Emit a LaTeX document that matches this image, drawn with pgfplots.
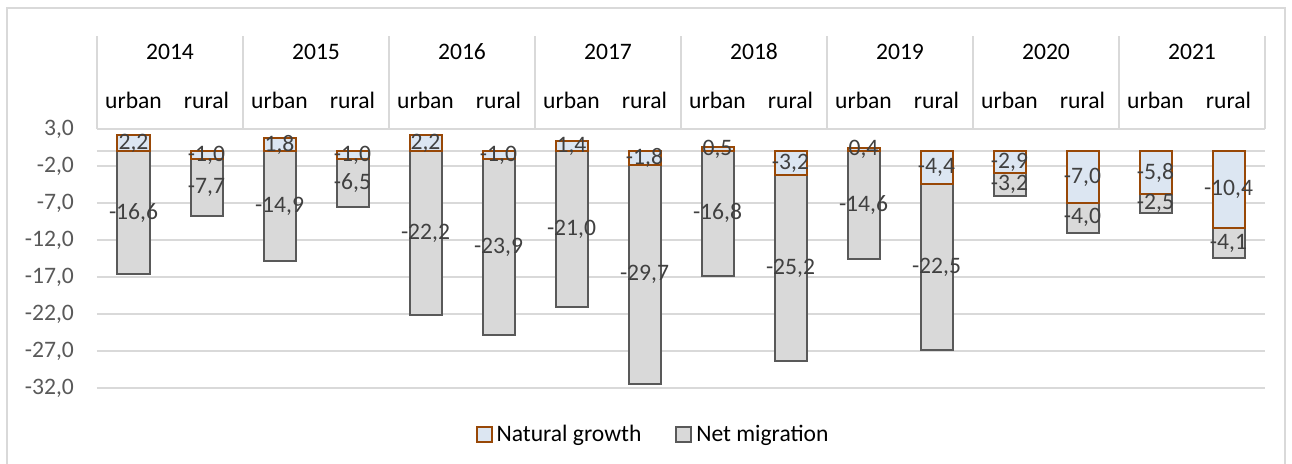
\documentclass[border=0pt]{standalone}
\usepackage{fontspec}
\setmainfont{Carlito}
\usepackage{pgfplots}
\pgfplotsset{compat=1.18}
\usepackage{pgfplotstable}
\definecolor{gridc}{HTML}{D9D9D9}
\definecolor{tickc}{HTML}{595959}
\definecolor{labc}{HTML}{404040}
\definecolor{ngfill}{HTML}{DCE6F2}
\definecolor{ngdraw}{HTML}{984807}
\definecolor{nmfill}{HTML}{D9D9D9}
\definecolor{nmdraw}{HTML}{595959}
\newcommand\cf{\fontsize{11.8pt}{14pt}\selectfont}

\pgfplotstableread{
x ng net
0 2.2 -16.6
1 -1.0 -7.7
2 1.8 -14.9
3 -1.0 -6.5
4 2.2 -22.2
5 -1.0 -23.9
6 1.4 -21.0
7 -1.8 -29.7
8 0.5 -16.8
9 -3.2 -25.2
10 0.4 -14.6
11 -4.4 -22.5
12 -2.9 -3.2
13 -7.0 -4.0
14 -5.8 -2.5
15 -10.4 -4.1
}\data

\begin{document}
\begin{tikzpicture}[x=1pt,y=1pt]
\path[use as bounding box] (0,0) rectangle (646,-232);
\draw[gridc, line width=0.75pt] (3.5,-4) rectangle (642.5,-240);
\begin{axis}[
  at={(48.5pt,-194pt)}, anchor=south west,
  scale only axis, width=584pt, height=129.5pt,
  xmin=-0.5, xmax=15.5, ymin=-32, ymax=3,
  clip=false,
  axis line style={draw=none},
  major tick length=0pt,
  ytick={3,-2,-7,-12,-17,-22,-27,-32},
  ymajorgrids, grid style={gridc, line width=0.75pt},
  yticklabel style={font=\cf, text=tickc, anchor=east, xshift=-8pt},
  /pgf/number format/.cd, fixed, precision=1, zerofill, use comma, assume math mode=true,
  /pgfplots/.cd,
  xtick={0,...,15},
  xticklabels={urban,rural,urban,rural,urban,rural,urban,rural,urban,rural,urban,rural,urban,rural,urban,rural},
  xticklabel pos=upper,
  xticklabel style={font=\cf, text=black, anchor=center, yshift=14.5pt},
  legend style={draw=none, font=\cf, at={(0.477,0)}, anchor=center, yshift=-23.5pt,
    legend columns=2, /tikz/every even column/.append style={column sep=15pt}},
  legend cell align=left,
  legend image code/.code={\draw[#1, line width=0.9pt] (0pt,-3.5pt) rectangle (7.5pt,4pt);},
]
\draw[gridc, line width=0.75pt] (axis cs:-0.5,0) -- (axis cs:15.5,0);
\addlegendimage{fill=ngfill, draw=ngdraw}
\addlegendentry{Natural growth}
\addlegendimage{fill=nmfill, draw=nmdraw}
\addlegendentry{Net migration}
% net migration bars, starting below negative natural growth
\addplot[forget plot, ybar, bar width=16pt, bar shift=0pt, fill=nmfill, draw=nmdraw, line width=1pt]
  table[x=x, y expr={\thisrow{net}+min(0,\thisrow{ng})}] {\data};
% natural growth bars
\addplot[forget plot, ybar, bar width=16pt, bar shift=0pt, fill=ngfill, draw=ngdraw, line width=1pt]
  table[x=x, y=ng] {\data};
% labels
\addplot[forget plot, draw=none, mark=none, point meta=explicit,
  nodes near coords, nodes near coords align=center,
  every node near coord/.append style={font=\cf, text=labc, inner sep=0pt}]
  table[x=x, y expr={\thisrow{ng}/2}, meta=ng] {\data};
\addplot[forget plot, draw=none, mark=none, point meta=explicit,
  nodes near coords, nodes near coords align=center,
  every node near coord/.append style={font=\cf, text=labc, inner sep=0pt}]
  table[x=x, y expr={min(0,\thisrow{ng})+\thisrow{net}/2}, meta=net] {\data};
% header separators and years
\foreach \k in {-0.5,1.5,3.5,5.5,7.5,9.5,11.5,13.5,15.5}{
  \edef\tmp{\noexpand\draw[gridc, line width=0.9pt] (axis cs:\k,3) -- ++(0pt,46.5pt);}\tmp
}
\node[font=\cf, yshift=38.5pt] at (axis cs:0.5,3) {2014};
\node[font=\cf, yshift=38.5pt] at (axis cs:2.5,3) {2015};
\node[font=\cf, yshift=38.5pt] at (axis cs:4.5,3) {2016};
\node[font=\cf, yshift=38.5pt] at (axis cs:6.5,3) {2017};
\node[font=\cf, yshift=38.5pt] at (axis cs:8.5,3) {2018};
\node[font=\cf, yshift=38.5pt] at (axis cs:10.5,3) {2019};
\node[font=\cf, yshift=38.5pt] at (axis cs:12.5,3) {2020};
\node[font=\cf, yshift=38.5pt] at (axis cs:14.5,3) {2021};
\end{axis}
\end{tikzpicture}
\end{document}
